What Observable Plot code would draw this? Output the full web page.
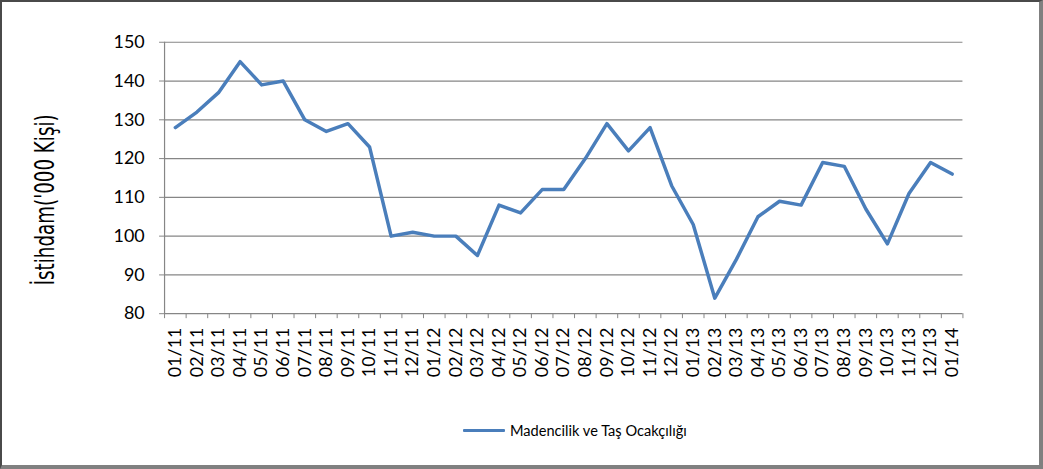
<!DOCTYPE html>
<html>
<head>
<meta charset="utf-8">
<script src="https://cdn.jsdelivr.net/npm/d3@7"></script>
<script src="https://cdn.jsdelivr.net/npm/@observablehq/plot@0.6"></script>
<style>
  html, body { margin: 0; padding: 0; background: #fff; }
  #frame {
    position: relative; width: 1043px; height: 469px; box-sizing: border-box;
    border-top: 2px solid #4a4a4a; border-left: 2px solid #4a4a4a;
    border-right: 4px solid #808080; border-bottom: 4px solid #808080;
    overflow: hidden; background: #fff;
  }
  #chart { position: absolute; left: -2px; top: -2px; }
  #legend {
    position: absolute; left: 461px; top: 420px; display: flex; align-items: center;
    font-family: Lato, "Open Sans", sans-serif; font-size: 14.6px; color: #000;
  }
  #legend .sw { width: 42px; height: 3px; background: #4a7ebb; margin-right: 5px; border-radius: 1px; }
</style>
</head>
<body>
<div id="frame">
  <div id="chart"></div>
  <div id="legend"><span class="sw"></span><span>Madencilik ve Taş Ocakçılığı</span></div>
</div>
<script>
const months = ["01/11","02/11","03/11","04/11","05/11","06/11","07/11","08/11","09/11","10/11","11/11","12/11",
  "01/12","02/12","03/12","04/12","05/12","06/12","07/12","08/12","09/12","10/12","11/12","12/12",
  "01/13","02/13","03/13","04/13","05/13","06/13","07/13","08/13","09/13","10/13","11/13","12/13","01/14"];
const values = [128,132,137,145,139,140,130,127,129,123,100,101,
  100,100,95,108,106,112,112,120,129,122,128,113,
  103,84,94,105,109,108,119,118,107,98,111,119,116];
const yTicks = [80,90,100,110,120,130,140,150];
const seriesName = "Madencilik ve Taş Ocakçılığı";
const yTitle = "İstihdam('000 Kişi)";

const data = months.map((m, i) => ({i, m, v: values[i]}));
const idx = months.map((_, i) => i);
const bounds = months.map((_, i) => i - 0.5).concat([months.length - 0.5]);
const grid = "#868686";
const font = "Lato, 'Open Sans', sans-serif";

const chart = Plot.plot({
  width: 1045, height: 402,
  marginLeft: 165, marginRight: 77, marginTop: 42, marginBottom: 87,
  style: {fontFamily: font, fontSize: "18px", color: "#000", background: "transparent"},
  x: {type: "linear", domain: [-0.5, months.length - 0.5], axis: null},
  y: {domain: [80, 150], axis: null},
  marks: [
    Plot.ruleY(yTicks, {stroke: grid, strokeWidth: 1.2}),
    Plot.ruleX([-0.5], {stroke: grid, strokeWidth: 1.2}),
    Plot.axisY(yTicks, {tickSize: 5, tickPadding: 15, stroke: grid, fontSize: 18, tickFormat: d => d, label: null, strokeOpacity: 1}),
    Plot.axisX(bounds, {tickSize: 5, tickFormat: () => "", stroke: grid, strokeOpacity: 1, label: null}),
    Plot.axisX(idx, {tickSize: 0, tickPadding: 14, tickRotate: -90, tickFormat: i => months[i], fontSize: 18, label: null}),
    Plot.line(data, {x: "i", y: "v", stroke: "#4a7ebb", strokeWidth: 3.5, strokeLinejoin: "round"}),
    Plot.text([yTitle], {frameAnchor: "left", textAnchor: "middle", dx: -120, dy: 22, rotate: -90, text: d => d,
      fontSize: 27, fontFamily: "'Liberation Sans Narrow', 'DejaVu Sans Condensed', sans-serif", fill: "#000"})
  ]
});
document.getElementById("chart").appendChild(chart);
// condense the y-axis title to its narrow width
chart.querySelectorAll("text").forEach(t => {
  if (t.textContent === yTitle) {
    t.setAttribute("textLength", "172");
    t.setAttribute("lengthAdjust", "spacingAndGlyphs");
  }
});
</script>
</body>
</html>
